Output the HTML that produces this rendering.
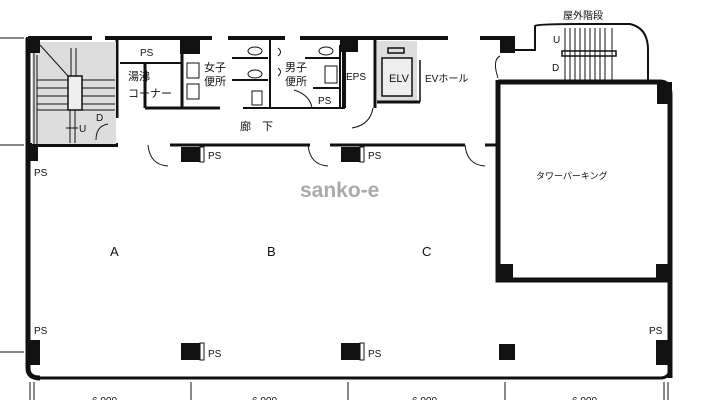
<!DOCTYPE html>
<html><head><meta charset="utf-8"><style>
html,body{margin:0;padding:0;background:#fff;}
svg{display:block;font-family:"Liberation Sans","Noto Sans CJK JP",sans-serif;}
</style></head><body>
<svg width="702" height="400" viewBox="0 0 702 400" xmlns="http://www.w3.org/2000/svg">
<rect width="702" height="400" fill="#fff"/>
<g stroke="#111" fill="none">
<!-- outer left wall -->
<line x1="0" y1="38" x2="24" y2="38" stroke-width="1"/>
<line x1="0" y1="145" x2="24" y2="145" stroke-width="1"/>
<line x1="0" y1="352" x2="24" y2="352" stroke-width="1"/>
<path d="M28 38 V368 Q28 378 40 378" stroke-width="5"/>
<!-- top wall -->
<line x1="28" y1="38" x2="92" y2="38" stroke-width="4"/>
<line x1="105" y1="38" x2="212" y2="38" stroke-width="4"/>
<line x1="228" y1="38" x2="285" y2="38" stroke-width="4"/>
<line x1="300" y1="38" x2="345" y2="38" stroke-width="4"/>
<line x1="340" y1="38" x2="448" y2="38" stroke-width="4"/>
<line x1="480" y1="38" x2="515" y2="38" stroke-width="4"/>
<!-- corridor bottom wall -->
<line x1="28" y1="145" x2="118" y2="145" stroke-width="4"/>
<line x1="170" y1="145" x2="310" y2="145" stroke-width="3"/>
<line x1="330" y1="145" x2="465" y2="145" stroke-width="3"/>
<line x1="485" y1="145" x2="497" y2="145" stroke-width="3"/>
<!-- tower parking -->
<path d="M498 82 H660 Q670 82 670 95 V378" stroke-width="5"/>
<path d="M498 80 V280 H670" stroke-width="5"/>
<!-- bottom wall -->
<path d="M40 378 H660 Q670 378 670 368" stroke-width="3"/>
<!-- stair hall -->
<line x1="117" y1="40" x2="117" y2="118" stroke-width="3"/>
<rect x="32" y="42" width="84" height="102" fill="#ddd" stroke="none"/>
<line x1="34" y1="42" x2="34" y2="144" stroke-width="1"/>
<line x1="37" y1="55" x2="37" y2="144" stroke-width="1"/>
<g stroke-width="1">
<line x1="37" y1="80" x2="115" y2="80"/><line x1="37" y1="88" x2="115" y2="88"/><line x1="37" y1="96" x2="115" y2="96"/><line x1="37" y1="104" x2="115" y2="104"/><line x1="37" y1="110" x2="115" y2="110"/>
<line x1="40" y1="45" x2="68" y2="76"/>
</g>
<rect x="68" y="76" width="14" height="34" fill="#eee" stroke-width="1.5"/>
<line x1="71" y1="48" x2="71" y2="76" stroke-width="1"/><line x1="76" y1="48" x2="76" y2="76" stroke-width="1"/>
<line x1="70" y1="110" x2="70" y2="143" stroke-width="1"/><line x1="75" y1="110" x2="75" y2="143" stroke-width="1"/>
<line x1="66" y1="128" x2="78" y2="128" stroke-width="1"/>
<path d="M108 124 Q96 126 96 140" stroke-width="1"/>
<!-- yutou corner -->
<line x1="120" y1="63" x2="182" y2="63" stroke-width="2"/>
<line x1="145" y1="63" x2="145" y2="108" stroke-width="3"/>
<line x1="145" y1="108" x2="220" y2="108" stroke-width="3"/>
<line x1="182" y1="40" x2="182" y2="108" stroke-width="3"/>
<rect x="187" y="63" width="12" height="15" stroke-width="1"/>
<rect x="187" y="84" width="12" height="15" stroke-width="1"/>
<!-- toilets -->
<line x1="270" y1="40" x2="270" y2="108" stroke-width="2"/>
<line x1="232" y1="58" x2="268" y2="58" stroke-width="2"/>
<line x1="232" y1="80" x2="268" y2="80" stroke-width="2"/>
<line x1="243" y1="108" x2="300" y2="108" stroke-width="2"/>
<ellipse cx="255" cy="51" rx="7" ry="4" stroke-width="1"/>
<ellipse cx="255" cy="74" rx="7" ry="4" stroke-width="1"/>
<rect x="252" y="91" width="10" height="14" stroke-width="1"/>
<path d="M278 48 q5 4 0 8 M278 68 q5 4 0 8" stroke-width="1"/>
<line x1="305" y1="58" x2="340" y2="58" stroke-width="2"/>
<ellipse cx="326" cy="51" rx="7" ry="4" stroke-width="1"/>
<rect x="325" y="66" width="12" height="17" stroke-width="1"/>
<line x1="313" y1="88" x2="340" y2="88" stroke-width="2"/>
<line x1="300" y1="108" x2="345" y2="108" stroke-width="2"/>
<line x1="340" y1="45" x2="340" y2="108" stroke-width="2"/>
<path d="M294 90 Q310 95 312 108" stroke-width="1"/>
<!-- EPS / ELV -->
<line x1="344" y1="40" x2="344" y2="108" stroke-width="4"/>
<line x1="375" y1="40" x2="375" y2="108" stroke-width="3"/>
<rect x="377" y="41" width="40" height="60" fill="#ddd" stroke="none"/>
<rect x="382" y="58" width="30" height="38" fill="#eee" stroke-width="1.5"/>
<rect x="388" y="48" width="16" height="5" stroke-width="1.5"/>
<line x1="377" y1="102" x2="420" y2="102" stroke-width="3"/>
<line x1="420" y1="60" x2="420" y2="102" stroke-width="1.5"/>
<path d="M352 128 Q370 125 373 108" stroke-width="1"/>
<line x1="498" y1="82" x2="498" y2="145" stroke-width="2"/>
<path d="M498 78 Q492 60 500 56" stroke-width="1"/>
<!-- outer stairs -->
<path d="M515 50 H535 V26 Q537 24 580 24 H630 Q648 28 648 50 V82" stroke-width="2"/>
<g stroke-width="1">
<line x1="565" y1="28" x2="565" y2="80"/><line x1="570" y1="28" x2="570" y2="80"/><line x1="575" y1="28" x2="575" y2="80"/><line x1="580" y1="28" x2="580" y2="80"/><line x1="585" y1="28" x2="585" y2="80"/><line x1="590" y1="28" x2="590" y2="80"/><line x1="595" y1="28" x2="595" y2="80"/><line x1="600" y1="28" x2="600" y2="80"/><line x1="605" y1="28" x2="605" y2="80"/><line x1="612" y1="28" x2="612" y2="80"/>
</g>
<rect x="562" y="51" width="54" height="5" stroke-width="1.5"/>
<!-- doors corridor -->
<path d="M148 145 Q150 165 168 166" stroke-width="1"/>
<path d="M308 145 Q310 165 328 166" stroke-width="1"/>
<path d="M465 145 Q467 165 485 166" stroke-width="1"/>
<!-- dims -->
<g stroke-width="1">
<line x1="30" y1="382" x2="30" y2="400"/><line x1="34" y1="382" x2="34" y2="400"/>
<line x1="191" y1="382" x2="191" y2="400"/><line x1="348" y1="382" x2="348" y2="400"/>
<line x1="505" y1="382" x2="505" y2="400"/><line x1="664" y1="382" x2="664" y2="400"/><line x1="668" y1="382" x2="668" y2="400"/>
</g>
</g>
<!-- solid columns -->
<g fill="#111">
<rect x="26" y="37" width="14" height="16"/>
<rect x="180" y="37" width="20" height="17"/>
<rect x="340" y="37" width="18" height="15"/>
<rect x="500" y="37" width="15" height="16"/>
<rect x="657" y="82" width="15" height="22"/>
<rect x="498" y="264" width="15" height="16"/>
<rect x="656" y="264" width="16" height="16"/>
<rect x="181" y="147" width="19" height="15"/>
<rect x="341" y="147" width="19" height="15"/>
<rect x="181" y="343" width="19" height="17"/>
<rect x="341" y="343" width="19" height="17"/>
<rect x="499" y="344" width="16" height="16"/>
<rect x="26" y="145" width="12" height="16"/>
<rect x="26" y="340" width="14" height="25"/>
<rect x="656" y="340" width="14" height="25"/>
</g>
<g fill="none" stroke="#111" stroke-width="1">
<rect x="200" y="147" width="4" height="15"/><rect x="360" y="147" width="4" height="15"/>
<rect x="200" y="343" width="4" height="17"/><rect x="360" y="343" width="4" height="17"/>
</g>
<g fill="#111" font-size="10">
<text x="140" y="56">PS</text>
<text x="128" y="80" font-size="11">湯沸</text>
<text x="128" y="97" font-size="11">コーナー</text>
<text x="204" y="71" font-size="11">女子</text>
<text x="204" y="85" font-size="11">便所</text>
<text x="285" y="71" font-size="11">男子</text>
<text x="285" y="85" font-size="11">便所</text>
<text x="318" y="104">PS</text>
<text x="346" y="80">EPS</text>
<text x="389" y="82" font-size="11">ELV</text>
<text x="425" y="82">EVホール</text>
<text x="240" y="130" font-size="11">廊　下</text>
<text x="79" y="132">U</text>
<text x="96" y="121">D</text>
<text x="553" y="43">U</text>
<text x="552" y="71">D</text>
<text x="563" y="19" font-size="10">屋外階段</text>
<text x="208" y="159">PS</text>
<text x="368" y="159">PS</text>
<text x="208" y="357">PS</text>
<text x="368" y="357">PS</text>
<text x="34" y="176">PS</text>
<text x="34" y="334">PS</text>
<text x="649" y="334">PS</text>
<text x="536" y="179" font-size="9">タワーパーキング</text>
<text x="110" y="256" font-size="13">A</text>
<text x="267" y="256" font-size="13">B</text>
<text x="422" y="256" font-size="13">C</text>
<text x="92" y="404">6,000</text><text x="252" y="404">6,000</text><text x="412" y="404">6,000</text><text x="572" y="404">6,000</text>
</g>
<text x="300" y="197" font-size="21" font-weight="bold" fill="#aaa">sanko-e</text>
</svg>
</body></html>
